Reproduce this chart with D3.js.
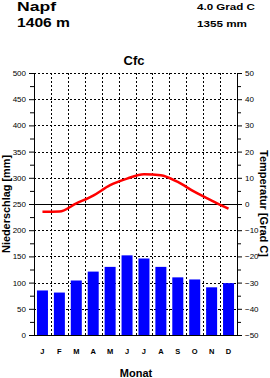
<!DOCTYPE html>
<html>
<head>
<meta charset="utf-8">
<script src="https://cdn.jsdelivr.net/npm/d3@7"></script>
<style>
  body { margin: 0; background: #fff; }
  svg { display: block; font-family: "Liberation Sans", Arial, sans-serif; }
  .tick text { font-size: 8px; }
  .domain { stroke: #000; }
</style>
</head>
<body>
<svg id="chart" width="270" height="378"></svg>
<script>
const months = ['J', 'F', 'M', 'A', 'M', 'J', 'J', 'A', 'S', 'O', 'N', 'D'];
const precip = [85, 81, 104, 121, 130, 152, 146, 130, 110, 106, 91, 99];
const temp = [-3.0, -2.9, 0.2, 3.2, 7.2, 9.7, 11.4, 11.0, 8.4, 4.6, 1.3, -1.8];
const precipTicks = [0, 50, 100, 150, 200, 250, 300, 350, 400, 450, 500];
const tempTicks = [-50, -40, -30, -20, -10, 0, 10, 20, 30, 40, 50];

const svg = d3.select('#chart');
const plotLeft = 34, plotRight = 237, plotTop = 73, plotBottom = 335;

const x = d3.scaleBand()
    .domain(d3.range(months.length))
    .range([plotLeft, plotRight])
    .paddingInner(0.35)
    .paddingOuter(0.175);

const yP = d3.scaleLinear().domain([0, 500]).range([plotBottom, plotTop]);
const yT = d3.scaleLinear().domain([-50, 50]).range([plotBottom, plotTop]);

// grid
const step = (plotRight - plotLeft) / months.length;
const grid = svg.append('g').attr('stroke', '#000').attr('stroke-dasharray', '2,2').attr('stroke-width', 1);
d3.range(1, months.length).forEach(i => {
    const gx = Math.round(plotLeft + step * i) + 0.5;
    grid.append('line').attr('x1', gx).attr('x2', gx).attr('y1', plotTop).attr('y2', plotBottom);
});
precipTicks.filter(v => v !== 0 && v !== 250).forEach(v => {
    const gy = Math.round(yP(v)) + 0.5;
    grid.append('line').attr('x1', plotLeft).attr('x2', plotRight).attr('y1', gy).attr('y2', gy);
});

// bars
svg.append('g').selectAll('rect')
    .data(precip)
    .enter().append('rect')
    .attr('x', (d, i) => x(i))
    .attr('y', d => yP(d))
    .attr('width', x.bandwidth())
    .attr('height', d => plotBottom - yP(d))
    .attr('fill', '#0000ff');

// zero temperature line
svg.append('line')
    .attr('x1', plotLeft).attr('x2', plotRight)
    .attr('y1', Math.round(yT(0)) + 0.5).attr('y2', Math.round(yT(0)) + 0.5)
    .attr('stroke', '#000').attr('stroke-width', 1.2);

// temperature line
const line = d3.line()
    .x((d, i) => x(i) + x.bandwidth() / 2)
    .y(d => yT(d))
    .curve(d3.curveMonotoneX);

svg.append('path')
    .datum(temp)
    .attr('d', line)
    .attr('fill', 'none')
    .attr('stroke', '#ff0000')
    .attr('stroke-width', 2.5);

// axes
const minorP = d3.range(25, 500, 50);
const minorT = d3.range(-45, 50, 10);

svg.append('g')
    .attr('transform', `translate(${plotLeft},0)`)
    .call(d3.axisLeft(yP).tickValues(minorP).tickSize(4).tickFormat(''))
    .call(g => g.select('.domain').remove());
svg.append('g')
    .attr('transform', `translate(${plotLeft},0)`)
    .call(d3.axisLeft(yP).tickValues(precipTicks).tickSize(5).tickSizeOuter(0).tickPadding(3));

svg.append('g')
    .attr('transform', `translate(${plotRight},0)`)
    .call(d3.axisRight(yT).tickValues(minorT).tickSize(4).tickFormat(''))
    .call(g => g.select('.domain').remove());
svg.append('g')
    .attr('transform', `translate(${plotRight},0)`)
    .call(d3.axisRight(yT).tickValues(tempTicks).tickSize(5).tickSizeOuter(0).tickPadding(3));

svg.append('line')
    .attr('x1', plotLeft).attr('x2', plotRight)
    .attr('y1', plotBottom + 0.5).attr('y2', plotBottom + 0.5)
    .attr('stroke', '#000').attr('stroke-width', 1.2);

// month labels
svg.append('g').selectAll('text')
    .data(months)
    .enter().append('text')
    .attr('x', (d, i) => x(i) + x.bandwidth() / 2)
    .attr('y', 354)
    .attr('text-anchor', 'middle')
    .attr('font-size', '7.5px')
    .attr('font-weight', 'bold')
    .text(d => d);

// titles (the original font is wider, so stretch to its width)
function title(txt, tx, ty, size, len) {
    svg.append('text')
        .attr('x', tx).attr('y', ty)
        .attr('font-size', size).attr('font-weight', 'bold')
        .attr('textLength', len).attr('lengthAdjust', 'spacingAndGlyphs')
        .text(txt);
}
title('Napf', 17, 11, '12px', 39);
title('1406 m', 17, 27, '12px', 53);
title('4.0 Grad C', 197, 10, '8.5px', 58);
title('1355 mm', 197, 27, '8.5px', 50);

svg.append('text').attr('x', 134).attr('y', 65).attr('text-anchor', 'middle').attr('font-size', '13px').attr('font-weight', 'bold').text('Cfc');

svg.append('text')
    .attr('transform', `translate(10,204) rotate(-90)`)
    .attr('text-anchor', 'middle')
    .attr('font-size', '10.5px').attr('font-weight', 'bold')
    .attr('textLength', 98).attr('lengthAdjust', 'spacingAndGlyphs')
    .text('Niederschlag [mm]');
svg.append('text')
    .attr('transform', `translate(260,203.5) rotate(90)`)
    .attr('text-anchor', 'middle')
    .attr('font-size', '10.5px').attr('font-weight', 'bold')
    .attr('textLength', 107).attr('lengthAdjust', 'spacingAndGlyphs')
    .text('Temperatur [Grad C]');
svg.append('text')
    .attr('x', 136).attr('y', 377)
    .attr('text-anchor', 'middle')
    .attr('font-size', '11px').attr('font-weight', 'bold')
    .text('Monat');
</script>
</body>
</html>
